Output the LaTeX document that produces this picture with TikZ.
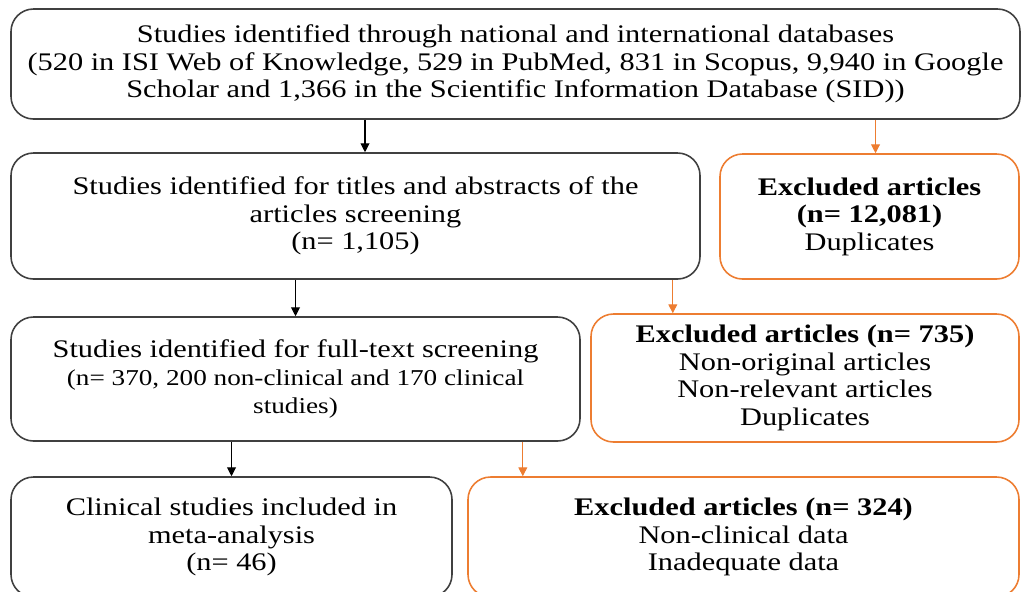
\documentclass[tikz,border=0pt]{standalone}
\usepackage{fontspec}
\setmainfont[FakeStretch=1.2]{Liberation Serif}
\usepackage{tikz}
\usetikzlibrary{positioning}
\usetikzlibrary{arrows.meta}
\definecolor{boxgray}{HTML}{404040}
\definecolor{exorange}{HTML}{ED7D31}
\tikzset{
    flowbox/.style = {rectangle, rounded corners=0.45cm, line width=0.9pt, draw=boxgray, align=center, inner sep=2pt, font=\fontsize{14.4}{15.7}\selectfont},
    flowboxo/.style = {flowbox, draw=exorange},
    edgen/.style = {-{Triangle[length=5pt,width=5pt]}, line width=0.6pt, black},
    edgeo/.style = {-{Triangle[length=5pt,width=5pt]}, line width=0.6pt, exorange},
    smalltxt/.style = {font=\fontsize{12.9}{14.8}\selectfont}
}
\begin{document}
\begin{tikzpicture}
\clip (0,0) rectangle (20.42,-11.82);
%
\node[flowbox, minimum width=20.18cm, minimum height=2.2cm] at (10.31,-1.28) (top)
  {Studies identified through national and international databases\\
   (520 in ISI Web of Knowledge, 529 in PubMed, 831 in Scopus, 9,940 in Google\\
   Scholar and 1,366 in the Scientific Information Database (SID))};
\node[flowbox, minimum width=13.78cm, minimum height=2.52cm] at (7.11,-4.32) (scr)
  {Studies identified for titles and abstracts of the\\articles screening\\(n= 1,105)};
\node[flowboxo, minimum width=5.98cm, minimum height=2.5cm] at (17.39,-4.33) (dup)
  {\textbf{Excluded articles}\\\textbf{(n= 12,081)}\\Duplicates};
\node[flowbox, minimum width=11.38cm, minimum height=2.48cm] at (5.91,-7.58) (full)
  {Studies identified for full-text screening\\
   {\fontsize{12.9}{14.8}\selectfont (n= 370, 200 non-clinical and 170 clinical}\\
   {\fontsize{12.9}{14.8}\selectfont studies)}};
\node[flowboxo, minimum width=8.56cm, minimum height=2.56cm] at (16.1,-7.56) (ex735)
  {\textbf{Excluded articles (n= 735)}\\Non-original articles\\Non-relevant articles\\Duplicates};
\node[flowbox, minimum width=8.82cm, minimum height=2.4cm] at (4.63,-10.74) (clin)
  {Clinical studies included in\\meta-analysis\\(n= 46)};
\node[flowboxo, minimum width=11.02cm, minimum height=2.4cm] at (14.87,-10.74) (ex324)
  {\textbf{Excluded articles (n= 324)}\\Non-clinical data\\Inadequate data};
%
\coordinate (s1) at ([xshift=0.19cm]scr.north);
\coordinate (s2) at ([xshift=0.12cm]dup.north);
\coordinate (s3) at ([xshift=-0.56cm]scr.south east);
\coordinate (s4) at ([xshift=-1.16cm]full.south east);
%
\draw[edgen] (s1 |- top.south) -- (s1);
\draw[edgeo] (s2 |- top.south) -- (s2);
\draw[edgen] (full.north |- scr.south) -- (full.north);
\draw[edgeo] (s3) -- (s3 |- ex735.north);
\draw[edgen] (clin.north |- full.south) -- (clin.north);
\draw[edgeo] (s4) -- (s4 |- ex324.north);

\end{tikzpicture}
\end{document}
